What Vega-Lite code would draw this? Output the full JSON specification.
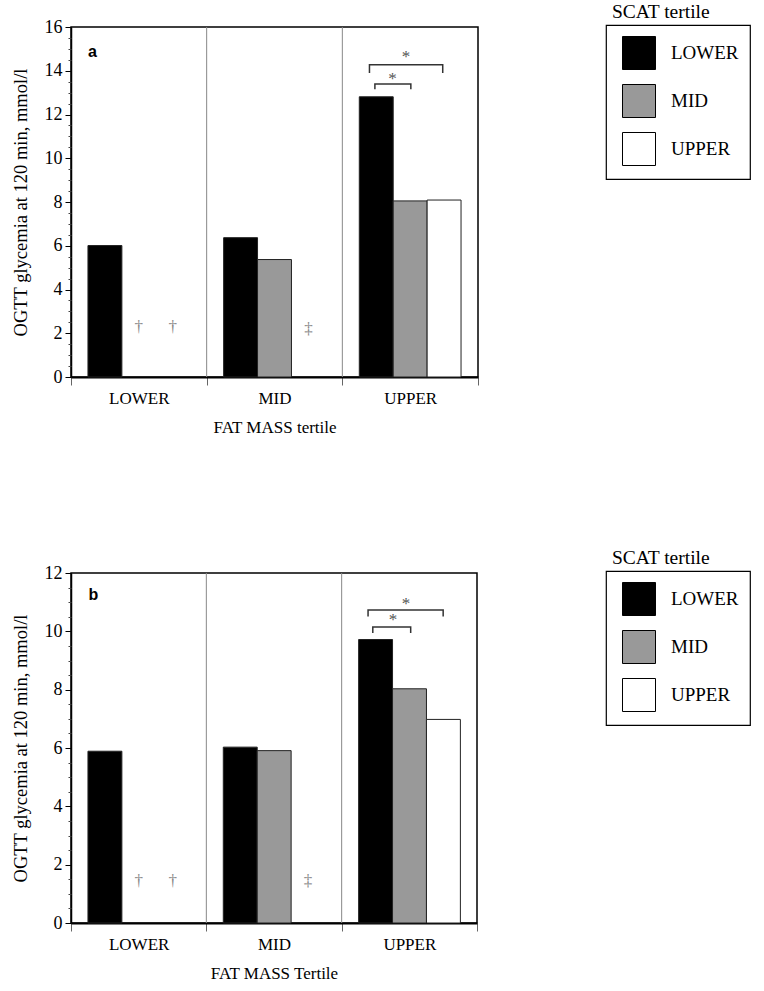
{
  "$schema": "https://vega.github.io/schema/vega-lite/v6.json",
  "padding": {"left": 10, "top": 0, "right": 4, "bottom": 4},
  "spacing": 110,
  "resolve": {"scale": {"fill": "independent"}, "legend": {"fill": "independent"}},
  "datasets": {
    "bars": [
      {"panel": "a", "fat": "LOWER", "scat": "LOWER", "value": 6.01},
      {"panel": "a", "fat": "MID", "scat": "LOWER", "value": 6.37},
      {"panel": "a", "fat": "MID", "scat": "MID", "value": 5.37},
      {"panel": "a", "fat": "UPPER", "scat": "LOWER", "value": 12.81},
      {"panel": "a", "fat": "UPPER", "scat": "MID", "value": 8.05},
      {"panel": "a", "fat": "UPPER", "scat": "UPPER", "value": 8.09},
      {"panel": "b", "fat": "LOWER", "scat": "LOWER", "value": 5.89},
      {"panel": "b", "fat": "MID", "scat": "LOWER", "value": 6.03},
      {"panel": "b", "fat": "MID", "scat": "MID", "value": 5.91},
      {"panel": "b", "fat": "UPPER", "scat": "LOWER", "value": 9.72},
      {"panel": "b", "fat": "UPPER", "scat": "MID", "value": 8.03},
      {"panel": "b", "fat": "UPPER", "scat": "UPPER", "value": 6.98}
    ],
    "marks": [
      {"panel": "a", "fat": "LOWER", "scat": "MID", "sym": "†", "v": 2.3},
      {"panel": "a", "fat": "LOWER", "scat": "UPPER", "sym": "†", "v": 2.3},
      {"panel": "a", "fat": "MID", "scat": "UPPER", "sym": "‡", "v": 2.2},
      {"panel": "b", "fat": "LOWER", "scat": "MID", "sym": "†", "v": 1.45},
      {"panel": "b", "fat": "LOWER", "scat": "UPPER", "sym": "†", "v": 1.45},
      {"panel": "b", "fat": "MID", "scat": "UPPER", "sym": "‡", "v": 1.45}
    ],
    "dividers": [{"pos": 1}, {"pos": 2}],
    "minor": [{"v": 0}],
    "brackets": [
      {"panel": "a", "id": "short", "ord": 1, "bx": 2.24, "by": 13.15},
      {"panel": "a", "id": "short", "ord": 2, "bx": 2.24, "by": 13.4},
      {"panel": "a", "id": "short", "ord": 3, "bx": 2.505, "by": 13.4},
      {"panel": "a", "id": "short", "ord": 4, "bx": 2.505, "by": 13.15},
      {"panel": "a", "id": "long", "ord": 1, "bx": 2.2, "by": 13.9},
      {"panel": "a", "id": "long", "ord": 2, "bx": 2.2, "by": 14.28},
      {"panel": "a", "id": "long", "ord": 3, "bx": 2.74, "by": 14.28},
      {"panel": "a", "id": "long", "ord": 4, "bx": 2.74, "by": 13.9},
      {"panel": "b", "id": "short", "ord": 1, "bx": 2.23, "by": 9.94},
      {"panel": "b", "id": "short", "ord": 2, "bx": 2.23, "by": 10.15},
      {"panel": "b", "id": "short", "ord": 3, "bx": 2.51, "by": 10.15},
      {"panel": "b", "id": "short", "ord": 4, "bx": 2.51, "by": 9.94},
      {"panel": "b", "id": "long", "ord": 1, "bx": 2.195, "by": 10.51},
      {"panel": "b", "id": "long", "ord": 2, "bx": 2.195, "by": 10.73},
      {"panel": "b", "id": "long", "ord": 3, "bx": 2.75, "by": 10.73},
      {"panel": "b", "id": "long", "ord": 4, "bx": 2.75, "by": 10.51}
    ],
    "stars": [
      {"panel": "a", "sx": 2.37, "sy": 13.8, "t": "*"},
      {"panel": "a", "sx": 2.47, "sy": 14.83, "t": "*"},
      {"panel": "b", "sx": 2.38, "sy": 10.51, "t": "*"},
      {"panel": "b", "sx": 2.476, "sy": 11.06, "t": "*"}
    ],
    "labels": [
      {"panel": "a", "lx": 0.125, "ly": 14.86, "t": "a"},
      {"panel": "b", "lx": 0.13, "ly": 11.25, "t": "b"}
    ]
  },
  "config": {
    "font": "Liberation Serif",
    "view": {"stroke": "black", "strokeWidth": 1.5},
    "axis": {
      "labelFont": "Liberation Serif", "labelFontSize": 17, "labelColor": "black",
      "titleFont": "Liberation Serif", "titleFontSize": 17, "titleFontWeight": "normal", "titleColor": "black",
      "domainColor": "black", "tickColor": "black", "grid": false
    },
    "title": {"font": "Liberation Serif", "fontSize": 19.5, "fontWeight": "normal", "color": "black", "anchor": "start", "frame": "group", "dx": 541, "offset": -4},
    "legend": {
      "orient": "none", "legendX": 535, "legendY": -2, "strokeColor": "black", "strokeWidth": 1.2, "padding": 11,
      "symbolType": "square", "symbolSize": 1089, "symbolStrokeColor": "black", "symbolStrokeWidth": 1,
      "symbolOffset": 5, "labelFont": "Liberation Serif", "labelFontSize": 19, "labelColor": "black",
      "labelOffset": 15, "rowPadding": 10, "labelLimit": 300
    }
  },
  "vconcat": [
    {
      "width": 407, "height": 350,
      "title": "SCAT tertile",
      "resolve": {"scale": {"x": "independent"}, "axis": {"x": "independent", "y": "independent"}},
      "layer": [
        {
          "data": {"name": "bars"},
          "transform": [{"filter": "datum.panel === 'a'"}],
          "mark": {"type": "bar", "stroke": "#222", "strokeWidth": 1},
          "encoding": {
            "x": {"field": "fat", "type": "nominal", "scale": {"domain": ["LOWER", "MID", "UPPER"], "paddingInner": 0, "paddingOuter": 0},
                  "axis": {"title": "FAT MASS tertile", "labelAngle": 0, "tickBand": "extent", "tickSize": 8, "tickColor": "#666", "labelPadding": 5, "titlePadding": 13, "domainWidth": 2}},
            "xOffset": {"field": "scat", "type": "nominal", "scale": {"domain": ["LOWER", "MID", "UPPER"], "paddingInner": 0, "paddingOuter": 0.5}},
            "y": {"field": "value", "type": "quantitative", "scale": {"domain": [0, 16], "nice": false},
                  "axis": {"orient": "left", "values": [0, 2, 4, 6, 8, 10, 12, 14, 16], "title": "OGTT glycemia at 120 min, mmol/l", "titleFontSize": 18.5, "labelFontSize": 18, "tickSize": 6, "labelPadding": 3, "titlePadding": 14, "domainWidth": 1.5}},
            "fill": {"field": "scat", "type": "nominal", "scale": {"domain": ["LOWER", "MID", "UPPER"], "range": ["#000000", "#999999", "#ffffff"]}, "legend": {"title": null}}
          }
        },
        {
          "data": {"name": "minor"},
          "mark": {"type": "point", "opacity": 0},
          "encoding": {
            "y": {"field": "v", "type": "quantitative", "scale": {"domain": [0, 16], "nice": false},
                  "axis": {"orient": "left", "values": [0.5, 1, 1.5, 2.5, 3, 3.5, 4.5, 5, 5.5, 6.5, 7, 7.5, 8.5, 9, 9.5, 10.5, 11, 11.5, 12.5, 13, 13.5, 14.5, 15, 15.5], "tickSize": 3, "labels": false, "domain": false, "title": null, "tickColor": "#444"}}
          }
        },
        {
          "data": {"name": "dividers"},
          "mark": {"type": "rule", "color": "#888", "strokeWidth": 1},
          "encoding": {
            "x": {"field": "pos", "type": "quantitative", "scale": {"domain": [0, 3], "nice": false, "zero": false}, "axis": null}
          }
        },
        {
          "data": {"name": "marks"},
          "transform": [{"filter": "datum.panel === 'a'"}],
          "mark": {"type": "text", "fontSize": 17, "color": "#888", "baseline": "middle"},
          "encoding": {
            "x": {"field": "fat", "type": "nominal", "scale": {"domain": ["LOWER", "MID", "UPPER"], "paddingInner": 0, "paddingOuter": 0}, "axis": null},
            "xOffset": {"field": "scat", "type": "nominal", "scale": {"domain": ["LOWER", "MID", "UPPER"], "paddingInner": 0, "paddingOuter": 0.5}},
            "y": {"field": "v", "type": "quantitative", "scale": {"domain": [0, 16], "nice": false}, "axis": null},
            "text": {"field": "sym"}
          }
        },
        {
          "data": {"name": "brackets"},
          "transform": [{"filter": "datum.panel === 'a'"}],
          "mark": {"type": "line", "color": "#333", "strokeWidth": 1.5},
          "encoding": {
            "x": {"field": "bx", "type": "quantitative", "scale": {"domain": [0, 3], "nice": false, "zero": false}, "axis": null},
            "y": {"field": "by", "type": "quantitative", "scale": {"domain": [0, 16], "nice": false}, "axis": null},
            "detail": {"field": "id"},
            "order": {"field": "ord"}
          }
        },
        {
          "data": {"name": "stars"},
          "transform": [{"filter": "datum.panel === 'a'"}],
          "mark": {"type": "text", "fontSize": 17, "color": "#555", "baseline": "middle", "dy": 4},
          "encoding": {
            "x": {"field": "sx", "type": "quantitative", "scale": {"domain": [0, 3], "nice": false, "zero": false}, "axis": null},
            "y": {"field": "sy", "type": "quantitative", "scale": {"domain": [0, 16], "nice": false}, "axis": null},
            "text": {"field": "t"}
          }
        },
        {
          "data": {"name": "labels"},
          "transform": [{"filter": "datum.panel === 'a'"}],
          "mark": {"type": "text", "font": "Liberation Sans", "fontSize": 16, "fontWeight": "bold", "color": "black", "align": "left", "baseline": "middle"},
          "encoding": {
            "x": {"field": "lx", "type": "quantitative", "scale": {"domain": [0, 3], "nice": false, "zero": false}, "axis": null},
            "y": {"field": "ly", "type": "quantitative", "scale": {"domain": [0, 16], "nice": false}, "axis": null},
            "text": {"field": "t"}
          }
        }
      ]
    },
    {
      "width": 406, "height": 350,
      "title": "SCAT tertile",
      "resolve": {"scale": {"x": "independent"}, "axis": {"x": "independent", "y": "independent"}},
      "layer": [
        {
          "data": {"name": "bars"},
          "transform": [{"filter": "datum.panel === 'b'"}],
          "mark": {"type": "bar", "stroke": "#222", "strokeWidth": 1},
          "encoding": {
            "x": {"field": "fat", "type": "nominal", "scale": {"domain": ["LOWER", "MID", "UPPER"], "paddingInner": 0, "paddingOuter": 0},
                  "axis": {"title": "FAT MASS Tertile", "labelAngle": 0, "tickBand": "extent", "tickSize": 8, "tickColor": "#666", "labelPadding": 5, "titlePadding": 13, "domainWidth": 2}},
            "xOffset": {"field": "scat", "type": "nominal", "scale": {"domain": ["LOWER", "MID", "UPPER"], "paddingInner": 0, "paddingOuter": 0.5}},
            "y": {"field": "value", "type": "quantitative", "scale": {"domain": [0, 12], "nice": false},
                  "axis": {"orient": "left", "values": [0, 2, 4, 6, 8, 10, 12], "title": "OGTT glycemia at 120 min, mmol/l", "titleFontSize": 18.5, "labelFontSize": 18, "tickSize": 6, "labelPadding": 3, "titlePadding": 14, "domainWidth": 1.5}},
            "fill": {"field": "scat", "type": "nominal", "scale": {"domain": ["LOWER", "MID", "UPPER"], "range": ["#000000", "#999999", "#ffffff"]}, "legend": {"title": null}}
          }
        },
        {
          "data": {"name": "minor"},
          "mark": {"type": "point", "opacity": 0},
          "encoding": {
            "y": {"field": "v", "type": "quantitative", "scale": {"domain": [0, 12], "nice": false},
                  "axis": {"orient": "left", "values": [0.5, 1, 1.5, 2.5, 3, 3.5, 4.5, 5, 5.5, 6.5, 7, 7.5, 8.5, 9, 9.5, 10.5, 11, 11.5], "tickSize": 3, "labels": false, "domain": false, "title": null, "tickColor": "#444"}}
          }
        },
        {
          "data": {"name": "dividers"},
          "mark": {"type": "rule", "color": "#888", "strokeWidth": 1},
          "encoding": {
            "x": {"field": "pos", "type": "quantitative", "scale": {"domain": [0, 3], "nice": false, "zero": false}, "axis": null}
          }
        },
        {
          "data": {"name": "marks"},
          "transform": [{"filter": "datum.panel === 'b'"}],
          "mark": {"type": "text", "fontSize": 17, "color": "#888", "baseline": "middle"},
          "encoding": {
            "x": {"field": "fat", "type": "nominal", "scale": {"domain": ["LOWER", "MID", "UPPER"], "paddingInner": 0, "paddingOuter": 0}, "axis": null},
            "xOffset": {"field": "scat", "type": "nominal", "scale": {"domain": ["LOWER", "MID", "UPPER"], "paddingInner": 0, "paddingOuter": 0.5}},
            "y": {"field": "v", "type": "quantitative", "scale": {"domain": [0, 12], "nice": false}, "axis": null},
            "text": {"field": "sym"}
          }
        },
        {
          "data": {"name": "brackets"},
          "transform": [{"filter": "datum.panel === 'b'"}],
          "mark": {"type": "line", "color": "#333", "strokeWidth": 1.5},
          "encoding": {
            "x": {"field": "bx", "type": "quantitative", "scale": {"domain": [0, 3], "nice": false, "zero": false}, "axis": null},
            "y": {"field": "by", "type": "quantitative", "scale": {"domain": [0, 12], "nice": false}, "axis": null},
            "detail": {"field": "id"},
            "order": {"field": "ord"}
          }
        },
        {
          "data": {"name": "stars"},
          "transform": [{"filter": "datum.panel === 'b'"}],
          "mark": {"type": "text", "fontSize": 17, "color": "#555", "baseline": "middle", "dy": 4},
          "encoding": {
            "x": {"field": "sx", "type": "quantitative", "scale": {"domain": [0, 3], "nice": false, "zero": false}, "axis": null},
            "y": {"field": "sy", "type": "quantitative", "scale": {"domain": [0, 12], "nice": false}, "axis": null},
            "text": {"field": "t"}
          }
        },
        {
          "data": {"name": "labels"},
          "transform": [{"filter": "datum.panel === 'b'"}],
          "mark": {"type": "text", "font": "Liberation Sans", "fontSize": 16, "fontWeight": "bold", "color": "black", "align": "left", "baseline": "middle"},
          "encoding": {
            "x": {"field": "lx", "type": "quantitative", "scale": {"domain": [0, 3], "nice": false, "zero": false}, "axis": null},
            "y": {"field": "ly", "type": "quantitative", "scale": {"domain": [0, 12], "nice": false}, "axis": null},
            "text": {"field": "t"}
          }
        }
      ]
    }
  ]
}
